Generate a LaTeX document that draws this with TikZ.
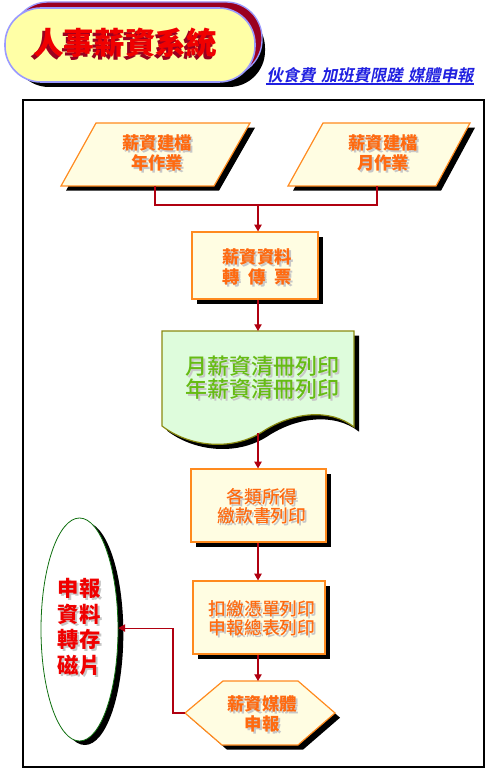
\documentclass[tikz,border=0pt]{standalone}
\usepackage{fontspec}
\newfontfamily\cjk{Noto Sans CJK TC}
\newfontfamily\cjkm{Noto Sans CJK TC Medium}
\newfontfamily\cjkh{Noto Sans CJK TC Black}
\newfontfamily\cjkit{Noto Sans CJK TC Bold}[FakeSlant=0.2]
\usetikzlibrary{shapes.geometric,shadows,arrows.meta}
\definecolor{orng}{HTML}{FF8A1E}
\definecolor{cream}{HTML}{FFFDE2}
\definecolor{otext}{HTML}{FF6A10}
\definecolor{conn}{HTML}{B00010}
\definecolor{docfill}{HTML}{DEFCDC}
\definecolor{docline}{HTML}{8A8A10}
\definecolor{gtext}{HTML}{66BB14}
\definecolor{pillfill}{HTML}{FFFFA6}
\definecolor{peri}{HTML}{9A9AFF}
\definecolor{dred}{HTML}{9A0020}
\definecolor{tred}{HTML}{F00000}
\definecolor{subblue}{HTML}{2020E0}
\definecolor{ellline}{HTML}{107010}
\newcommand\stext[4]{%
  \node[#3, text=black!22] at ([shift={(2,2)}]#2) {#4};
  \node[#3] (#1) at (#2) {#4};}
\tikzset{
  shad/.style={general shadow={fill=black, draw=none, shadow xshift=3.75pt, shadow yshift=-3.5pt}},
  shape1/.style={draw=orng, fill=cream, line width=0.9pt, shad},
  boxnode/.style={shape1, rectangle, inner sep=0pt},
  conn/.style={draw=conn, line width=0.8pt},
  arr/.style={conn, -{Triangle[width=5.5pt,length=5pt]}},
  otxt/.style={text=otext, align=center, inner sep=0pt},
  pt1/.style={otxt, font=\cjk\bfseries\fontsize{13}{15}\selectfont},
  pt2/.style={otxt, font=\cjkm\fontsize{13.3}{14}\selectfont},
  gt/.style={text=gtext, align=center, inner sep=0pt, font=\cjkm\fontsize{16.5}{17.3}\selectfont},
  rt/.style={text=tred, align=center, inner sep=0pt, font=\cjk\bfseries\fontsize{16}{19.3}\selectfont},
  tt/.style={inner sep=0pt, font=\cjkh\fontsize{23}{25}\selectfont},
}
\begin{document}
\begin{tikzpicture}[x=0.75pt,y=-0.75pt]
\useasboundingbox (0,0) rectangle (489,773);
% title button
\fill[black, rounded corners=27pt] (13,12) rectangle (265,87);
\draw[peri, fill=dred, line width=1pt, rounded corners=27pt] (12,2) rectangle (262,76);
\draw[peri, fill=pillfill, line width=1.2pt, rounded corners=27pt] (5,8) rectangle (255,82);
\node[tt, text=dred] at (122.5,45.5) {人事薪資系統};
\node[tt, text=tred] (title) at (125,43) {人事薪資系統};
% subtitle
\node[text=subblue, font=\cjkit\fontsize{12.2}{13}\selectfont, inner sep=0pt] (sub) at (370,75) {伙食費\hspace{0.35em}加班費限蹉\hspace{0.35em}媒體申報};
\draw[subblue, line width=1.2pt] (sub.south west |- 0,84) -- (sub.south east |- 0,84);
% frame
\draw[black, line width=1.5pt] (23,100) rectangle (484,767);
% parallelograms
\path[shape1] (96,123) -- (250,123) -- (214,186) -- (61,186) -- cycle;
\path[shape1] (323,123) -- (470,123) -- (436,186) -- (288,186) -- cycle;
\stext{t1}{157,153}{pt1}{薪資建檔\\年作業}
\stext{t2}{383,153}{pt1}{薪資建檔\\月作業}
\coordinate (p1b) at (155,186);
\coordinate (p2b) at (377,186);
\coordinate (j) at (258,205);
% box 1
\node[boxnode, minimum width=94.5pt, minimum height=50.25pt] (b1) at (255,265.5) {};
\stext{t3}{257,267}{pt1}{薪資資料\\轉\hspace{0.5em}傳\hspace{0.5em}票}
% document
\path[draw=docline, fill=docfill, line width=0.9pt, shad]
  (162,331) -- (354,331) -- (354,427)
  .. controls (330,408) and (292,412) .. (262,432)
  .. controls (230,452) and (188,446) .. (162,426) -- cycle;
\stext{t4}{262,378}{gt}{月薪資清冊列印\\年薪資清冊列印}
\coordinate (doct) at (258,331);
\coordinate (docb) at (258,433);
% box 2, box 3
\node[boxnode, minimum width=101.25pt, minimum height=54.75pt] (b2) at (258.5,505.5) {};
\stext{t5}{262,506}{pt2}{各類所得\\繳款書列印}
\node[boxnode, minimum width=99pt, minimum height=54.75pt] (b3) at (259,617.5) {};
\stext{t6}{262,618}{pt2}{扣繳憑單列印\\申報總表列印}
% hexagon
\path[shape1] (185,713) -- (223,681) -- (298,681) -- (335,713) -- (298,745) -- (222,745) -- cycle;
\stext{t7}{262,714}{pt1}{薪資媒體\\申報}
\coordinate (hexn) at (259,681);
\coordinate (hexw) at (185,713);
% ellipse
\node[ellipse, draw=ellline, fill=white, line width=0.6pt, minimum width=57.75pt, minimum height=167.25pt, inner sep=0pt,
  general shadow={fill=black, draw=none, shadow xshift=4pt, shadow yshift=-3pt}] (ell) at (79.5,629.5) {};
\stext{t8}{79,627}{rt}{申報\\資料\\轉存\\磁片}
% connectors
\draw[conn] (p1b) -- (p1b |- j) -- (p2b |- j) -- (p2b);
\draw[arr] (j) -- (j |- b1.north);
\draw[arr] (j |- b1.south) -- (doct);
\draw[arr] (docb) -- (docb |- b2.north);
\draw[arr] (b2.south -| docb) -- (b3.north -| docb);
\draw[arr] (b3.south -| docb) -- (hexn -| docb);
\draw[arr] (hexw) -- ++(-12,0) |- ([yshift=1.1pt]ell.east);
\end{tikzpicture}
\end{document}
